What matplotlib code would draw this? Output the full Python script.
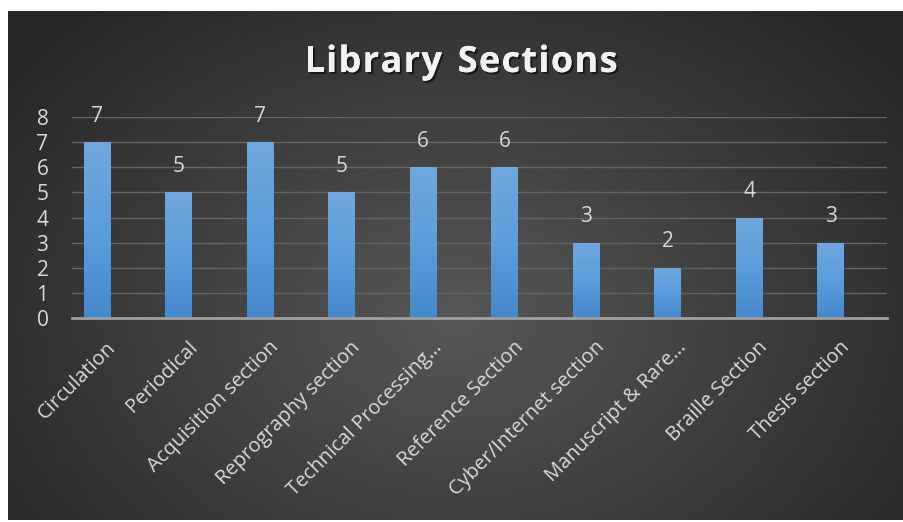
import numpy as np
import matplotlib
matplotlib.use("Agg")
import matplotlib.pyplot as plt
import matplotlib.patheffects as pe
from matplotlib.colors import LinearSegmentedColormap

categories = ["Circulation", "Periodical", "Acquisition section", "Reprography section",
              "Technical Processing…", "Reference Section", "Cyber/Internet section",
              "Manuscript & Rare…", "Braille Section", "Thesis section"]
values = [7, 5, 7, 5, 6, 6, 3, 2, 4, 3]
yticks = [0, 1, 2, 3, 4, 5, 6, 7, 8]
title = "Library Sections"

W, H = 904, 522
fig = plt.figure(figsize=(W / 100, H / 100), dpi=100)
fig.patch.set_facecolor("white")

# background panel with radial gradient
bg = fig.add_axes([8 / W, 2 / H, 896 / W, 509 / H])
bg.set_axis_off()
ny, nx = 300, 500
yy, xx = np.mgrid[0:ny, 0:nx]
cx, cy = nx * 0.5, ny * 0.6
r = np.sqrt(((xx - cx) / (nx * 0.62)) ** 2 + ((yy - cy) / (ny * 0.8)) ** 2)
r = np.clip(r, 0, 1)
light = np.array([0x57, 0x57, 0x57]) / 255
dark = np.array([0x27, 0x27, 0x27]) / 255
img = light[None, None, :] * (1 - r[..., None]) + dark[None, None, :] * r[..., None]
bg.imshow(img, aspect="auto", extent=[0, 1, 0, 1], origin="upper")
bg.set_xlim(0, 1)
bg.set_ylim(0, 1)

ax = fig.add_axes([72 / W, 204 / H, 815 / W, 201 / H])
ax.patch.set_alpha(0)
x = np.arange(len(categories))
offset = -0.193
bars = ax.bar(x + offset, values, width=0.32, color="#5b9bd5", zorder=3)

# vertical gradient on bars
grad = np.linspace(0, 1, 256)[:, None]
cmap = LinearSegmentedColormap.from_list("b", ["#4489cc", "#5b9edd", "#70a7dc"])
for b in bars:
    x0, y0 = b.get_x(), b.get_y()
    w, h = b.get_width(), b.get_height()
    im = ax.imshow(grad, cmap=cmap, extent=[x0, x0 + w, y0, y0 + h], origin="lower",
                   aspect="auto", zorder=4)
    im.set_clip_path(b)

for xi, v in zip(x + offset, values):
    ax.annotate(str(v), (xi, v), xytext=(0, 11), textcoords="offset points",
                ha="center", va="bottom", color="#d9d9d9", fontsize=15,
                family="Open Sans", zorder=5)

ax.set_xlim(-0.5, len(categories) - 0.5)
ax.set_ylim(0, 8)
ax.set_yticks(yticks)
ax.set_yticklabels([str(t) for t in yticks], color="#d9d9d9", fontsize=15, family="Open Sans")
ax.set_xticks(x - 0.086)
ax.set_xticklabels(categories, rotation=45, ha="right", va="top", rotation_mode="anchor",
                   color="#d9d9d9", fontsize=14.5, family="Open Sans")
ax.tick_params(axis="both", length=0)
ax.tick_params(axis="y", pad=17)
ax.tick_params(axis="x", pad=14)
ax.grid(axis="y", color="#646464", linewidth=1.0, zorder=1)
for s in ["top", "right", "left"]:
    ax.spines[s].set_visible(False)
ax.spines["bottom"].set_color("#a0a0a0")
ax.spines["bottom"].set_linewidth(2)
ax.spines["bottom"].set_zorder(6)

# title with letter spacing, placed character by character
fig.canvas.draw()
renderer = fig.canvas.get_renderer()
tkw = dict(color="#f2f2f2", fontsize=26, fontweight="bold", family="Open Sans",
           va="baseline", ha="left",
           path_effects=[pe.withSimplePatchShadow(offset=(1.5, -1.5), shadow_rgbFace="black", alpha=0.55),
                         pe.Normal()])
tracking = 1.3  # px
widths = []
for ch in title:
    t = fig.text(0, 0, ch if ch != " " else "n", **tkw)
    bb = t.get_window_extent(renderer)
    widths.append(bb.width * (0.55 if ch == " " else 1.0))
    t.remove()
total = sum(widths) + tracking * (len(title) - 1)
xpos = 461 - total / 2
base_y = H - 72
for ch, w in zip(title, widths):
    if ch != " ":
        fig.text(xpos / W, base_y / H, ch, **tkw)
    xpos += w + tracking

fig.savefig("out.png", dpi=100, facecolor="white")
